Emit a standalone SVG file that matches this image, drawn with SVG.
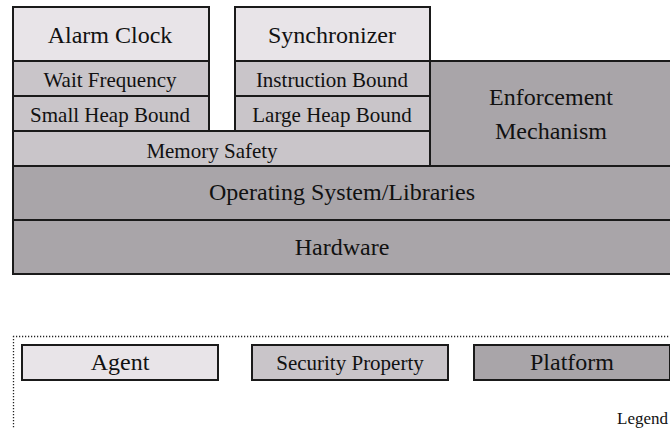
<svg xmlns="http://www.w3.org/2000/svg" width="670" height="429" viewBox="0 0 670 429">
<style>
.box { stroke: #1a1a1a; stroke-width: 2; }
.agent { fill: #e8e4e8; }
.prop { fill: #c9c5c9; }
.plat { fill: #a9a5a9; }
text { font-family: "Liberation Serif", "Times New Roman", serif; fill: #111; text-anchor: middle; }
.big { font-size: 24px; }
.mid { font-size: 21px; }
.leg { font-size: 17px; text-anchor: end; }
.dots { fill: none; stroke: #222; stroke-width: 1.3; stroke-dasharray: 1.2 1.8; }
</style>
<rect width="670" height="429" fill="#ffffff"/>
<g id="hardware"><rect class="box plat" x="13" y="220" width="660" height="54"/><text class="big" x="342" y="255">Hardware</text></g>
<g id="os"><rect class="box plat" x="13" y="166" width="660" height="54"/><text class="big" x="342" y="200">Operating System/Libraries</text></g>
<g id="enforcement"><rect class="box plat" x="430" y="61" width="243" height="105"/><text class="big" x="551" y="105">Enforcement</text><text class="big" x="551" y="139">Mechanism</text></g>
<g id="memory-safety"><rect class="box prop" x="13" y="131" width="417" height="35"/><text class="mid" x="212" y="158">Memory Safety</text></g>
<g id="small-heap"><rect class="box prop" x="13" y="96" width="196" height="35"/><text class="mid" x="110" y="122">Small Heap Bound</text></g>
<g id="wait-frequency"><rect class="box prop" x="13" y="61" width="196" height="35"/><text class="mid" x="110" y="87">Wait Frequency</text></g>
<g id="alarm-clock"><rect class="box agent" x="13" y="7" width="196" height="54"/><text class="big" x="110" y="43">Alarm Clock</text></g>
<g id="large-heap"><rect class="box prop" x="235" y="96" width="195" height="35"/><text class="mid" x="332" y="122">Large Heap Bound</text></g>
<g id="instruction-bound"><rect class="box prop" x="235" y="61" width="195" height="35"/><text class="mid" x="332" y="87">Instruction Bound</text></g>
<g id="synchronizer"><rect class="box agent" x="235" y="7" width="195" height="54"/><text class="big" x="332" y="43">Synchronizer</text></g>
<g id="legend">
<path class="dots" d="M13 336.5 H670 M13.5 336 V429"/>
<g id="legend-agent"><rect class="box agent" x="22" y="345" width="196" height="35"/><text class="big" x="120" y="370">Agent</text></g>
<g id="legend-property"><rect class="box prop" x="252" y="345" width="196" height="35"/><text class="mid" x="350" y="370">Security Property</text></g>
<g id="legend-platform"><rect class="box plat" x="474" y="345" width="196" height="35"/><text class="big" x="572" y="370">Platform</text></g>
<text class="leg" x="668" y="424">Legend</text>
</g>
</svg>
